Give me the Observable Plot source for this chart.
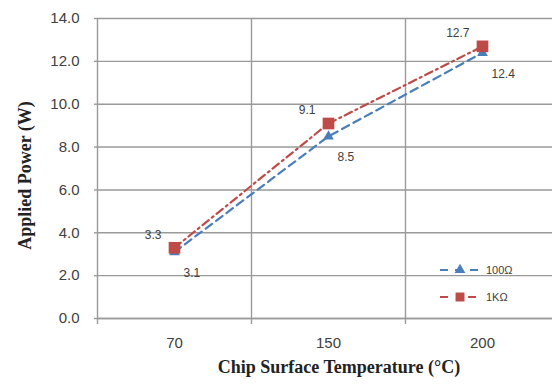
<!DOCTYPE html>
<html>
<head>
<meta charset="utf-8">
<script src="https://cdn.jsdelivr.net/npm/d3@7"></script>
<script src="https://cdn.jsdelivr.net/npm/@observablehq/plot@0.6"></script>
<style>
  html, body { margin: 0; padding: 0; background: #fff; }
  #wrap { position: relative; width: 552px; height: 388px; overflow: hidden; }
  #legend { position: absolute; left: 438px; top: 256px; font: 11px "Liberation Sans", sans-serif; color: #404040; }
  #legend .row { display: flex; align-items: center; height: 27px; }
  #legend svg { display: block; margin-right: 4px; }
</style>
</head>
<body>
<div id="wrap">
  <div id="chart"></div>
  <div id="legend"></div>
</div>
<script>
// ---- data ----
const temps = ["70", "150", "200"];
const power100 = [3.1, 8.5, 12.4];
const power1k = [3.3, 9.1, 12.7];
const seriesNames = ["100Ω", "1KΩ"];
const seriesColors = ["#4a7ebb", "#be4b48"];
const yTicks = [0, 2, 4, 6, 8, 10, 12, 14];
const xTitle = "Chip Surface Temperature (°C)";
const yTitle = "Applied Power (W)";

// ---- build rows ----
const rows100 = temps.map((t, i) => ({pos: i + 0.5, temp: t, value: power100[i], series: seriesNames[0]}));
const rows1k = temps.map((t, i) => ({pos: i + 0.5, temp: t, value: power1k[i], series: seriesNames[1]}));
const edges = d3.range(temps.length + 1);
const centers = temps.map((t, i) => i + 0.5);

const grid = "#9a9a9a";
const tickFont = "Liberation Sans, sans-serif";

const chart = Plot.plot({
  width: 552,
  height: 388,
  marginLeft: 97,
  marginTop: 18,
  marginBottom: 70,
  marginRight: 0,
  x: {domain: [0, temps.length], range: [97, 559], label: null},
  y: {domain: [0, 14], label: null},
  style: {fontFamily: tickFont, background: "#fff"},
  marks: [
    // horizontal grid
    Plot.gridY(yTicks, {stroke: grid, strokeOpacity: 1, strokeWidth: 1.4}),
    // vertical grid at category boundaries, with short ticks below
    Plot.ruleX(edges, {y1: 0, y2: 14, stroke: grid, strokeWidth: 1.4}),
    Plot.axisX(edges, {tickSize: 6, stroke: grid, strokeWidth: 1.4, tickFormat: () => "", label: null}),
    Plot.axisX(centers, {tickSize: 0, tickPadding: 19, tickFormat: d => temps[Math.floor(d)], fontSize: 15, fill: "#404040", label: null}),
    Plot.axisY(yTicks, {tickSize: 3, tickPadding: 15, tickFormat: d => d.toFixed(1), stroke: grid, strokeWidth: 1.4, fontSize: 15, fill: "#404040", label: null}),
    Plot.ruleY([0], {stroke: grid, strokeWidth: 1.4, x1: 0, x2: 3}),
    // lines
    Plot.line(rows100, {x: "pos", y: "value", stroke: seriesColors[0], strokeWidth: 2.2, strokeDasharray: "8,5"}),
    Plot.line(rows1k, {x: "pos", y: "value", stroke: seriesColors[1], strokeWidth: 2.2, strokeDasharray: "8,4,2,4"}),
    // markers
    Plot.dot(rows100, {x: "pos", y: "value", symbol: "triangle", r: 4, fill: seriesColors[0], stroke: "none"}),
    Plot.dot(rows1k, {x: "pos", y: "value", symbol: "square", r: 6.6, fill: seriesColors[1], stroke: "none"}),
    // data labels
    Plot.text(rows1k, {x: "pos", y: "value", text: d => d.value.toFixed(1), textAnchor: "end", dx: -13, dy: -13, fontSize: 12, fill: "#404040"}),
    Plot.text(rows100, {x: "pos", y: "value", text: d => d.value.toFixed(1), textAnchor: "start", dx: 9, dy: 21, fontSize: 12, fill: "#404040"}),
    // axis titles
    Plot.text([xTitle], {frameAnchor: "bottom", dx: 14, dy: 54, fontFamily: "Liberation Serif, serif", fontWeight: "bold", fontSize: 18, fill: "#222"}),
    Plot.text([yTitle], {frameAnchor: "left", textAnchor: "middle", rotate: -90, dx: -72, dy: 7, fontFamily: "Liberation Serif, serif", fontWeight: "bold", fontSize: 18, fill: "#222"})
  ]
});
document.getElementById("chart").appendChild(chart);

// ---- legend ----
const legend = d3.select("#legend");
const sym = [d3.symbolTriangle, d3.symbolSquare];
const symSize = [50, 80];
seriesNames.forEach((name, i) => {
  const row = legend.append("div").attr("class", "row");
  const svg = row.append("svg").attr("width", 44).attr("height", 14);
  svg.append("line").attr("x1", 2).attr("x2", 42).attr("y1", 7).attr("y2", 7)
    .attr("stroke", seriesColors[i]).attr("stroke-width", 2.2).attr("stroke-dasharray", i === 0 ? "8,7,8,7" : "8,20,8");
  svg.append("path").attr("d", d3.symbol(sym[i], symSize[i])()).attr("transform", "translate(22,7)").attr("fill", seriesColors[i]);
  row.append("span").text(name);
});
</script>
</body>
</html>
